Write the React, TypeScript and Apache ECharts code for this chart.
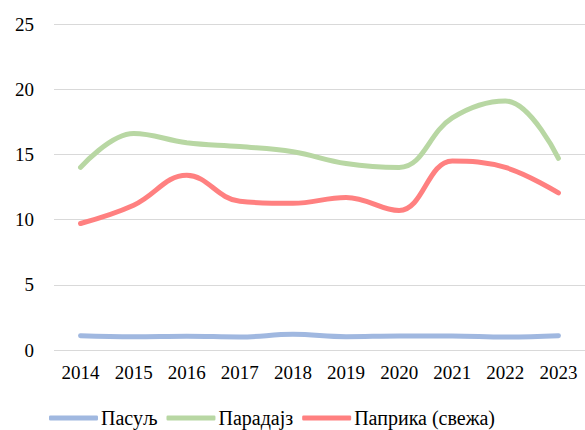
import React, { useEffect, useRef } from "react";
import * as echarts from "echarts";

const years = ["2014", "2015", "2016", "2017", "2018", "2019", "2020", "2021", "2022", "2023"];
const pasulj = [1.1, 1.02, 1.06, 1.0, 1.2, 1.02, 1.08, 1.08, 1.0, 1.1];
const paradajz = [14.0, 16.6, 15.9, 15.6, 15.2, 14.3, 14.0, 17.8, 19.1, 14.7];
const paprika = [9.7, 11.1, 13.4, 11.4, 11.25, 11.7, 10.7, 14.5, 14.0, 12.05];
const names = ["Пасуљ", "Парадајз", "Паприка (свежа)"];
const colors = ["#A0B8E0", "#B8D7A3", "#FF8080"];

const FONT = "Liberation Serif";

export default function App() {
  const ref = useRef<HTMLDivElement>(null);
  useEffect(() => {
    if (!ref.current) return;
    const chart = echarts.init(ref.current, null, { renderer: "svg" });
    const data = [pasulj, paradajz, paprika];
    chart.setOption({
      animation: false,
      grid: { left: 54, top: 24, width: 533, bottom: 80, containLabel: false },
      legend: {
        top: 403,
        left: 44,
        icon: "roundRect",
        itemWidth: 49,
        itemHeight: 5,
        itemGap: 9,
        textStyle: { fontFamily: FONT, fontSize: 20, color: "#000", padding: [0, 0, 0, -2] },
        data: names,
      },
      xAxis: {
        type: "category",
        data: years,
        boundaryGap: true,
        axisLine: { show: false },
        axisTick: { show: false },
        axisLabel: { fontFamily: FONT, fontSize: 19, color: "#000", margin: 13 },
      },
      yAxis: {
        type: "value",
        min: 0,
        max: 25,
        interval: 5,
        axisLine: { show: false },
        axisTick: { show: false },
        axisLabel: { fontFamily: FONT, fontSize: 19, color: "#000", margin: 20 },
        splitLine: { lineStyle: { color: "#D9D9D9", width: 1 } },
      },
      series: names.map((n, i) => ({
        name: n,
        type: "line",
        data: data[i],
        smooth: 0.4,
        showSymbol: false,
        symbol: "none",
        lineStyle: { color: colors[i], width: 5, cap: "round" },
        itemStyle: { color: colors[i] },
      })),
    });
    return () => chart.dispose();
  }, []);
  return (
    <div
      ref={ref}
      style={{ position: "fixed", left: 0, top: 0, width: 585, height: 430, background: "#fff" }}
    />
  );
}
